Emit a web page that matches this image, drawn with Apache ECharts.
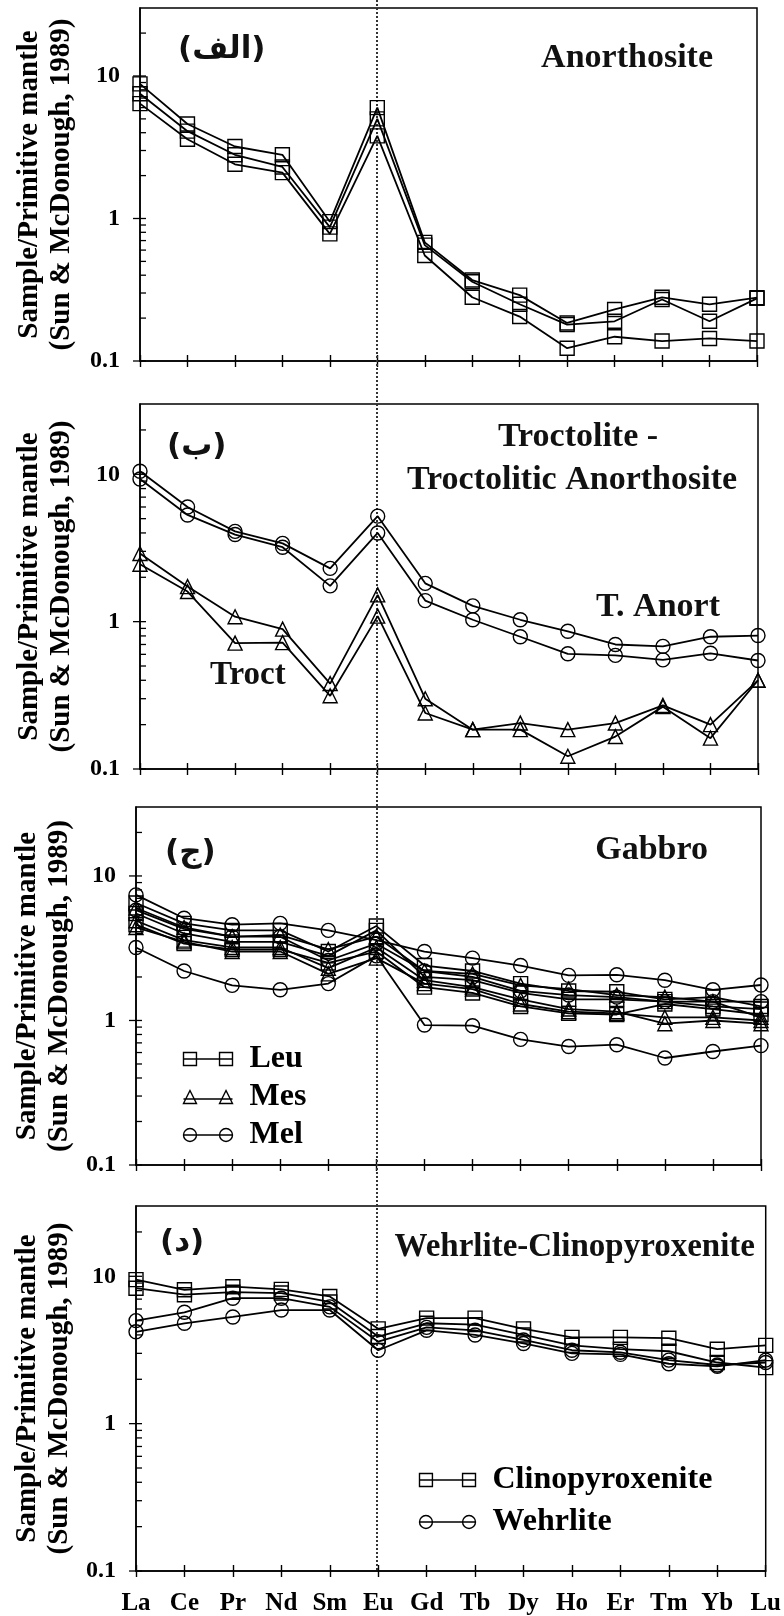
<!DOCTYPE html>
<html><head><meta charset="utf-8">
<script src="https://cdn.jsdelivr.net/npm/echarts@6/dist/echarts.min.js"></script>
<style>html,body{margin:0;padding:0;background:#fff}#c{width:784px;height:1616px}</style>
</head><body><div id="c"></div>
<script>
// ---------- data ----------
const categories = ['La','Ce','Pr','Nd','Sm','Eu','Gd','Tb','Dy','Ho','Er','Tm','Yb','Lu'];
const majorTicks = [0.1, 1, 10];
const minorTicks = [0.2,0.3,0.4,0.5,0.6,0.7,0.8,0.9,2,3,4,5,6,7,8,9,20];

// Panel الف : Anorthosite
const anorth1 = [8.8, 4.6, 3.2, 2.8, 0.95, 6.0, 0.68, 0.37, 0.29, 0.185, 0.23, 0.28, 0.25, 0.278];
const anorth2 = [7.5, 4.1, 2.8, 2.3, 0.87, 5.0, 0.65, 0.36, 0.25, 0.18, 0.19, 0.27, 0.19, 0.275];
const anorth3 = [6.4, 3.6, 2.4, 2.1, 0.78, 3.8, 0.55, 0.28, 0.205, 0.123, 0.148, 0.138, 0.144, 0.138];

// Panel ب : Troctolite - Troctolitic Anorthosite
const tAnort1 = [10.5, 6.0, 4.1, 3.4, 2.3, 5.2, 1.82, 1.28, 1.03, 0.86, 0.70, 0.68, 0.79, 0.805];
const tAnort2 = [9.3, 5.3, 3.9, 3.2, 1.75, 4.0, 1.39, 1.03, 0.79, 0.605, 0.59, 0.55, 0.61, 0.545];
const troct1 = [2.9, 1.73, 1.08, 0.89, 0.38, 1.52, 0.30, 0.185, 0.205, 0.185, 0.205, 0.27, 0.20, 0.40];
const troct2 = [2.45, 1.6, 0.715, 0.72, 0.314, 1.09, 0.24, 0.185, 0.185, 0.122, 0.166, 0.265, 0.162, 0.40];

// Panel ج : Gabbro
const leu1 = [6.5, 4.7, 4.2, 4.2, 3.0, 4.5, 2.4, 2.2, 1.8, 1.6, 1.58, 1.4, 1.45, 1.25];
const leu2 = [5.5, 4.0, 3.5, 3.5, 2.8, 4.2, 2.0, 1.9, 1.55, 1.4, 1.4, 1.35, 1.25, 1.2];
const leu3 = [4.6, 3.4, 3.1, 3.1, 2.5, 3.0, 1.7, 1.55, 1.25, 1.12, 1.1, 1.3, 1.2, 1.1];
const mes1 = [6.0, 4.4, 3.8, 3.9, 3.1, 3.8, 2.2, 2.1, 1.75, 1.65, 1.5, 1.45, 1.35, 1.05];
const mes2 = [4.9, 3.6, 3.2, 3.2, 2.3, 3.2, 1.9, 1.7, 1.4, 1.2, 1.15, 0.95, 1.0, 0.95];
const mes3 = [4.4, 3.5, 3.0, 3.0, 2.1, 2.7, 1.8, 1.65, 1.3, 1.15, 1.12, 1.05, 1.05, 1.0];
const mel1 = [7.4, 5.1, 4.6, 4.7, 4.2, 3.6, 3.0, 2.7, 2.4, 2.05, 2.07, 1.9, 1.63, 1.76];
const mel2 = [5.8, 4.3, 3.8, 3.8, 2.6, 3.4, 2.2, 2.0, 1.6, 1.5, 1.45, 1.35, 1.35, 1.35];
const mel3 = [3.2, 2.2, 1.75, 1.63, 1.8, 2.8, 0.93, 0.92, 0.74, 0.66, 0.68, 0.55, 0.61, 0.67];

// Panel د : Wehrlite-Clinopyroxenite
const cpx1 = [9.5, 8.1, 8.5, 8.15, 7.3, 4.4, 5.2, 5.2, 4.4, 3.85, 3.85, 3.8, 3.2, 3.4];
const cpx2 = [8.3, 7.5, 7.8, 7.7, 6.7, 3.9, 4.8, 4.7, 4.0, 3.4, 3.2, 3.1, 2.6, 2.4];
const weh1 = [5.0, 5.7, 7.1, 7.1, 6.2, 3.6, 4.5, 4.3, 3.7, 3.15, 3.05, 2.7, 2.5, 2.6];
const weh2 = [4.2, 4.8, 5.3, 5.9, 5.9, 3.15, 4.3, 4.0, 3.5, 3.0, 2.95, 2.55, 2.45, 2.7];

// ---------- layout / style ----------
const SERIF = "'Liberation Serif','Times New Roman',serif";
const ARAB = "'DejaVu Sans',sans-serif";
const grids = [
  {left:140, right:27, top:8, height:353},
  {left:140, right:26, top:404, height:365},
  {left:136, right:23, top:807, height:358},
  {left:136, right:18, top:1206, height:365}
];
const panels = [
  [['Anorthosite', 'rect', anorth1], ['Anorthosite', 'rect', anorth2], ['Anorthosite', 'rect', anorth3]],
  [['T. Anort', 'circle', tAnort1], ['T. Anort', 'circle', tAnort2], ['Troct', 'triangle', troct1], ['Troct', 'triangle', troct2]],
  [['Leu','rect',leu1],['Leu','rect',leu2],['Leu','rect',leu3],
   ['Mes','triangle',mes1],['Mes','triangle',mes2],['Mes','triangle',mes3],
   ['Mel','circle',mel1],['Mel','circle',mel2],['Mel','circle',mel3]],
  [['Clinopyroxenite','rect',cpx1],['Clinopyroxenite','rect',cpx2],
   ['Wehrlite','circle',weh1],['Wehrlite','circle',weh2]]
];

const xAxes = [], yAxes = [], series = [];
grids.forEach((g, i) => {
  const base = {
    type:'category', data:categories, gridIndex:i, boundaryGap:false, position:'bottom'
  };
  xAxes.push(Object.assign({}, base, {
    axisLine:{show:true, lineStyle:{color:'#000', width:1.5}},
    axisTick:{show:true, inside:false, length:6, interval:0, lineStyle:{color:'#000', width:1.4}},
    axisLabel:{show:i===3, interval:0, margin:20, color:'#000', fontSize:25, fontWeight:'bold', fontFamily:SERIF},
    splitLine:{show:false}
  }));
  xAxes.push(Object.assign({}, base, {
    axisLine:{show:false},
    axisTick:{show:true, inside:true, length:6, interval:0, lineStyle:{color:'#000', width:1.4}},
    axisLabel:{show:false}, splitLine:{show:false}
  }));
  yAxes.push({
    type:'log', logBase:10, gridIndex:i, min:0.1, max:30,
    axisLine:{show:true, lineStyle:{color:'#000', width:1.5}},
    axisTick:{show:false}, splitLine:{show:false}, minorTick:{show:false},
    axisLabel:{showMaxLabel:false, margin:20, color:'#000', fontSize:24, fontWeight:'bold', fontFamily:SERIF},
    name:'Sample/Primitive mantle\n(Sun & McDonough, 1989)',
    nameLocation:'middle', nameRotate:90, nameGap: g.left - 78,
    nameTextStyle:{color:'#000', fontSize:29, fontWeight:'bold', fontFamily:SERIF, lineHeight:32}
  });
  // y ticks (major crossing, minor inside) drawn through the axis scale
  series.push({
    type:'custom', xAxisIndex:2*i, yAxisIndex:i, silent:true, z:6, clip:false,
    data: majorTicks.concat(minorTicks).map(v => [0, v]),
    renderItem: (params, api) => {
      const v = api.value(1);
      const p = api.coord([0, v]);
      const major = majorTicks.indexOf(v) >= 0;
      return {type:'line', shape:{x1:p[0] - (major ? 7 : 0), y1:p[1], x2:p[0] + 6, y2:p[1]},
              style:{stroke:'#000', lineWidth:1.3}};
    }
  });
  panels[i].forEach(([name, sym, vals]) => {
    series.push({
      type:'line', name:name, xAxisIndex:2*i, yAxisIndex:i, data:vals,
      symbol:sym, symbolSize:14, showAllSymbol:true, z:3,
      lineStyle:{color:'#000', width:1.8},
      itemStyle:{color:'rgba(0,0,0,0)', borderColor:'#000', borderWidth:1.4},
      emphasis:{disabled:true}
    });
  });
});

const sqIcon = 'path://M0.7,0.7H13.3V13.3H0.7Z M35.7,0.7H48.3V13.3H35.7Z M0.7,7H48.3';
const triIcon = 'path://M0.7,13.3L7,0.7L13.3,13.3Z M35.7,13.3L42,0.7L48.3,13.3Z M0.7,9H48.3';
const ciIcon = 'path://M0.7,7A6.3,6.3 0 1,1 13.3,7A6.3,6.3 0 1,1 0.7,7Z M35.7,7A6.3,6.3 0 1,1 48.3,7A6.3,6.3 0 1,1 35.7,7Z M0.7,7H48.3';
const sqIcon2 = 'path://M0.7,0.7H13.3V13.3H0.7Z M42.7,0.7H55.3V13.3H42.7Z M0.7,7H55.3';
const ciIcon2 = 'path://M0.7,7A6.3,6.3 0 1,1 13.3,7A6.3,6.3 0 1,1 0.7,7Z M42.7,7A6.3,6.3 0 1,1 55.3,7A6.3,6.3 0 1,1 42.7,7Z M0.7,7H55.3';

const legendText = {color:'#000', fontSize:32, fontWeight:'bold', fontFamily:SERIF, padding:[0,0,0,12]};
const legendItem = {color:'none', borderColor:'#000', borderWidth:1.4};

function txt(id, text, x, y, size, align, family) {
  return {type:'text', id:id, x:x, y:y, z:10, silent:true,
    style:{text:text, fill:'#111', font:'bold ' + size + 'px ' + (family || SERIF),
           textAlign:align, textVerticalAlign:'middle'}};
}
const texts = [
  txt('t1', 'Anorthosite', 713, 58, 34, 'right'),
  txt('t2a', 'Troctolite -', 578, 437, 34, 'center'),
  txt('t2b', 'Troctolitic Anorthosite', 572, 480, 34, 'center'),
  txt('t2c', 'T. Anort', 720, 607, 34, 'right'),
  txt('t2d', 'Troct', 210, 675, 33, 'left'),
  txt('t3', 'Gabbro', 708, 850, 34, 'right'),
  txt('t4', 'Wehrlite-Clinopyroxenite', 755, 1247, 33, 'right'),
  txt('a1', '(الف)', 178, 50, 31, 'left', ARAB),
  txt('a2', '(ب)', 167, 447, 31, 'left', ARAB),
  txt('a3', '(ج)', 165, 853, 31, 'left', ARAB),
  txt('a4', '(د)', 160, 1243, 31, 'left', ARAB)
];

const option = {
  animation:false,
  backgroundColor:'#fff',
  grid: grids.map(g => Object.assign({show:true, borderColor:'#000', borderWidth:1.5, backgroundColor:'rgba(0,0,0,0)'}, g)),
  xAxis: xAxes,
  yAxis: yAxes,
  legend: [
    {data:[{name:'Leu', icon:sqIcon},{name:'Mes', icon:triIcon},{name:'Mel', icon:ciIcon}],
     orient:'vertical', left:176, top:1038, itemWidth:49, itemHeight:14, itemGap:6,
     selectedMode:false, textStyle:legendText, itemStyle:legendItem},
    {data:[{name:'Clinopyroxenite', icon:sqIcon2},{name:'Wehrlite', icon:ciIcon2}],
     orient:'vertical', left:412, top:1459, itemWidth:56, itemHeight:14, itemGap:10,
     selectedMode:false, textStyle:legendText, itemStyle:legendItem}
  ],
  graphic: texts,
  series: series
};

const chart = echarts.init(document.getElementById('c'), null, {renderer:'canvas'});
chart.setOption(option);
const ex = Math.round(chart.convertToPixel({xAxisIndex:0}, 'Eu'));
const yb = chart.convertToPixel({yAxisIndex:3}, 0.1);
chart.setOption({graphic: [{id:'euLine', type:'line', z:1, silent:true,
  shape:{x1:ex, y1:0, x2:ex, y2:yb},
  style:{stroke:'#333', lineWidth:2, lineDash:[2,2]}}]});
</script></body></html>
